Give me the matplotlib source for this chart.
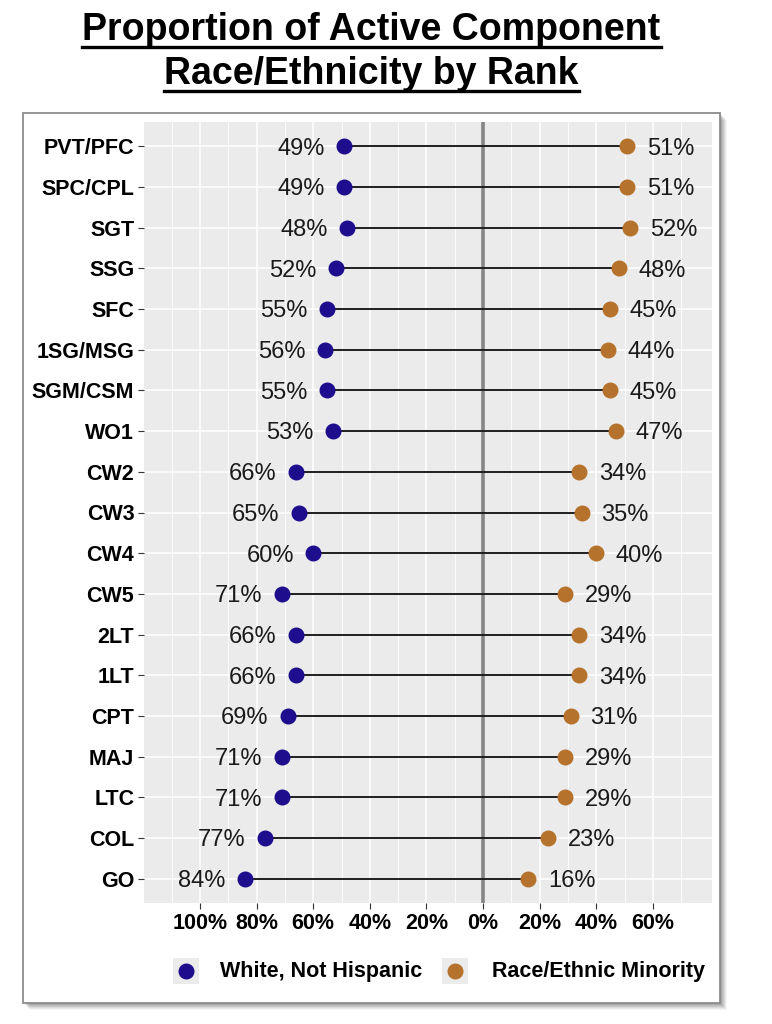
import matplotlib
matplotlib.use('Agg')
import matplotlib.pyplot as plt
from matplotlib.lines import Line2D
from matplotlib.patches import Rectangle
import numpy as np

plt.rcParams['font.family'] = ['Liberation Sans', 'DejaVu Sans']

# ---------------- data ----------------
ranks = ['PVT/PFC', 'SPC/CPL', 'SGT', 'SSG', 'SFC', '1SG/MSG', 'SGM/CSM', 'WO1',
         'CW2', 'CW3', 'CW4', 'CW5', '2LT', '1LT', 'CPT', 'MAJ', 'LTC', 'COL', 'GO']
white_pct = [49, 49, 48, 52, 55, 56, 55, 53, 66, 65, 60, 71, 66, 66, 69, 71, 71, 77, 84]
minority_pct = [51, 51, 52, 48, 45, 44, 45, 47, 34, 35, 40, 29, 34, 34, 31, 29, 29, 23, 16]
series_names = ['White, Not Hispanic', 'Race/Ethnic Minority']
tick_values = [-100, -80, -60, -40, -20, 0, 20, 40, 60]
tick_labels = ['100%', '80%', '60%', '40%', '20%', '0%', '20%', '40%', '60%']
title_lines = ['Proportion of Active Component', 'Race/Ethnicity by Rank']

# ---------------- style ----------------
c_white = '#1e0d8c'
c_minor = '#b5722c'
W, H = 772, 1024

def fx(px):
    return px / W

def fy(py):
    return 1 - py / H

fig = plt.figure(figsize=(W / 100, H / 100), dpi=100)

# outer box with soft shadow
bx0, by0, bx1, by1 = 23, 113, 720, 1003
for off, a in [(7, 0.04), (6, 0.05), (5, 0.06), (4, 0.07), (3, 0.08), (2, 0.09)]:
    fig.patches.append(Rectangle((fx(bx0 + off), fy(by1 + off)), (bx1 - bx0) / W, (by1 - by0) / H,
                                 transform=fig.transFigure, facecolor='black', alpha=a,
                                 edgecolor='none', zorder=-3))
fig.patches.append(Rectangle((fx(bx0), fy(by1)), (bx1 - bx0) / W, (by1 - by0) / H,
                             transform=fig.transFigure, facecolor='white',
                             edgecolor='#8c8c8c', linewidth=1.3, zorder=-2))

# axes
ax = fig.add_axes([fx(144), fy(903), (712 - 144) / W, (903 - 122) / H])
ax.set_zorder(1)
ax.set_facecolor('#ebebeb')
n = len(ranks)
y = np.arange(n)[::-1]
ax.set_xlim(-119.8, 80.9)
ax.set_ylim(-0.6, n - 0.4)

# grid
for v in np.arange(-110, 81, 20):
    ax.axvline(v, color='white', lw=0.6, zorder=0)
for v in tick_values:
    ax.axvline(v, color='white', lw=1.1, zorder=0)
for yy in y:
    ax.axhline(yy, color='white', lw=1.1, zorder=0)

ax.axvline(0, color='#7a7a7a', lw=2.6, zorder=1, alpha=0.9)

wx = -np.array(white_pct)
mx = np.array(minority_pct)
ax.hlines(y, wx, mx, color='#1f1f1f', lw=1.4, zorder=2)
ax.plot(wx, y, 'o', color=c_white, ms=10.5, zorder=3, label=series_names[0])
ax.plot(mx, y, 'o', color=c_minor, ms=10.5, zorder=3, label=series_names[1])

for yy, w, m in zip(y, white_pct, minority_pct):
    ax.annotate(f'{w}%', xy=(-w, yy), xytext=(-14, -6), textcoords='offset points',
                ha='right', va='baseline', fontsize=17, color='#1a1a1a')
    ax.annotate(f'{m}%', xy=(m, yy), xytext=(14, -6), textcoords='offset points',
                ha='left', va='baseline', fontsize=17, color='#1a1a1a')

for s in ax.spines.values():
    s.set_visible(False)
ax.set_yticks(y)
ax.set_yticklabels(ranks, fontsize=15.5, fontweight='bold', color='black')
ax.set_xticks(tick_values)
ax.set_xticklabels(tick_labels, fontsize=15.5, fontweight='bold', color='black')
ax.tick_params(axis='both', length=4, width=0.8, color='#333333', pad=3)

# title with underline
fig.canvas.draw()
renderer = fig.canvas.get_renderer()
for line, base in zip(title_lines, [40, 84]):
    t = fig.text(fx(371.5), fy(base), line, ha='center', va='baseline',
                 fontsize=27, fontweight='bold', color='black')
    bb = t.get_window_extent(renderer=renderer)
    uy = fy(base + 7)
    fig.lines.append(Line2D([bb.x0 / W, bb.x1 / W], [uy, uy], transform=fig.transFigure,
                            color='black', lw=2.4))

# legend (drawn manually to get ggplot-style key backgrounds)
key_cx = [186, 455]
text_x = [220, 492]
ly = 971
for name, col, kx, tx in zip(series_names, [c_white, c_minor], key_cx, text_x):
    fig.patches.append(Rectangle((fx(kx - 13), fy(ly + 13)), 26 / W, 26 / H,
                                 transform=fig.transFigure, facecolor='#ebebeb',
                                 edgecolor='none', zorder=2))
    fig.lines.append(Line2D([fx(kx)], [fy(ly)], transform=fig.transFigure, ls='none',
                            marker='o', ms=10.5, color=col, zorder=3))
    fig.text(fx(tx), fy(ly), name, ha='left', va='center', fontsize=15.5,
             fontweight='bold', color='black')

fig.savefig('out.png', dpi=100)
